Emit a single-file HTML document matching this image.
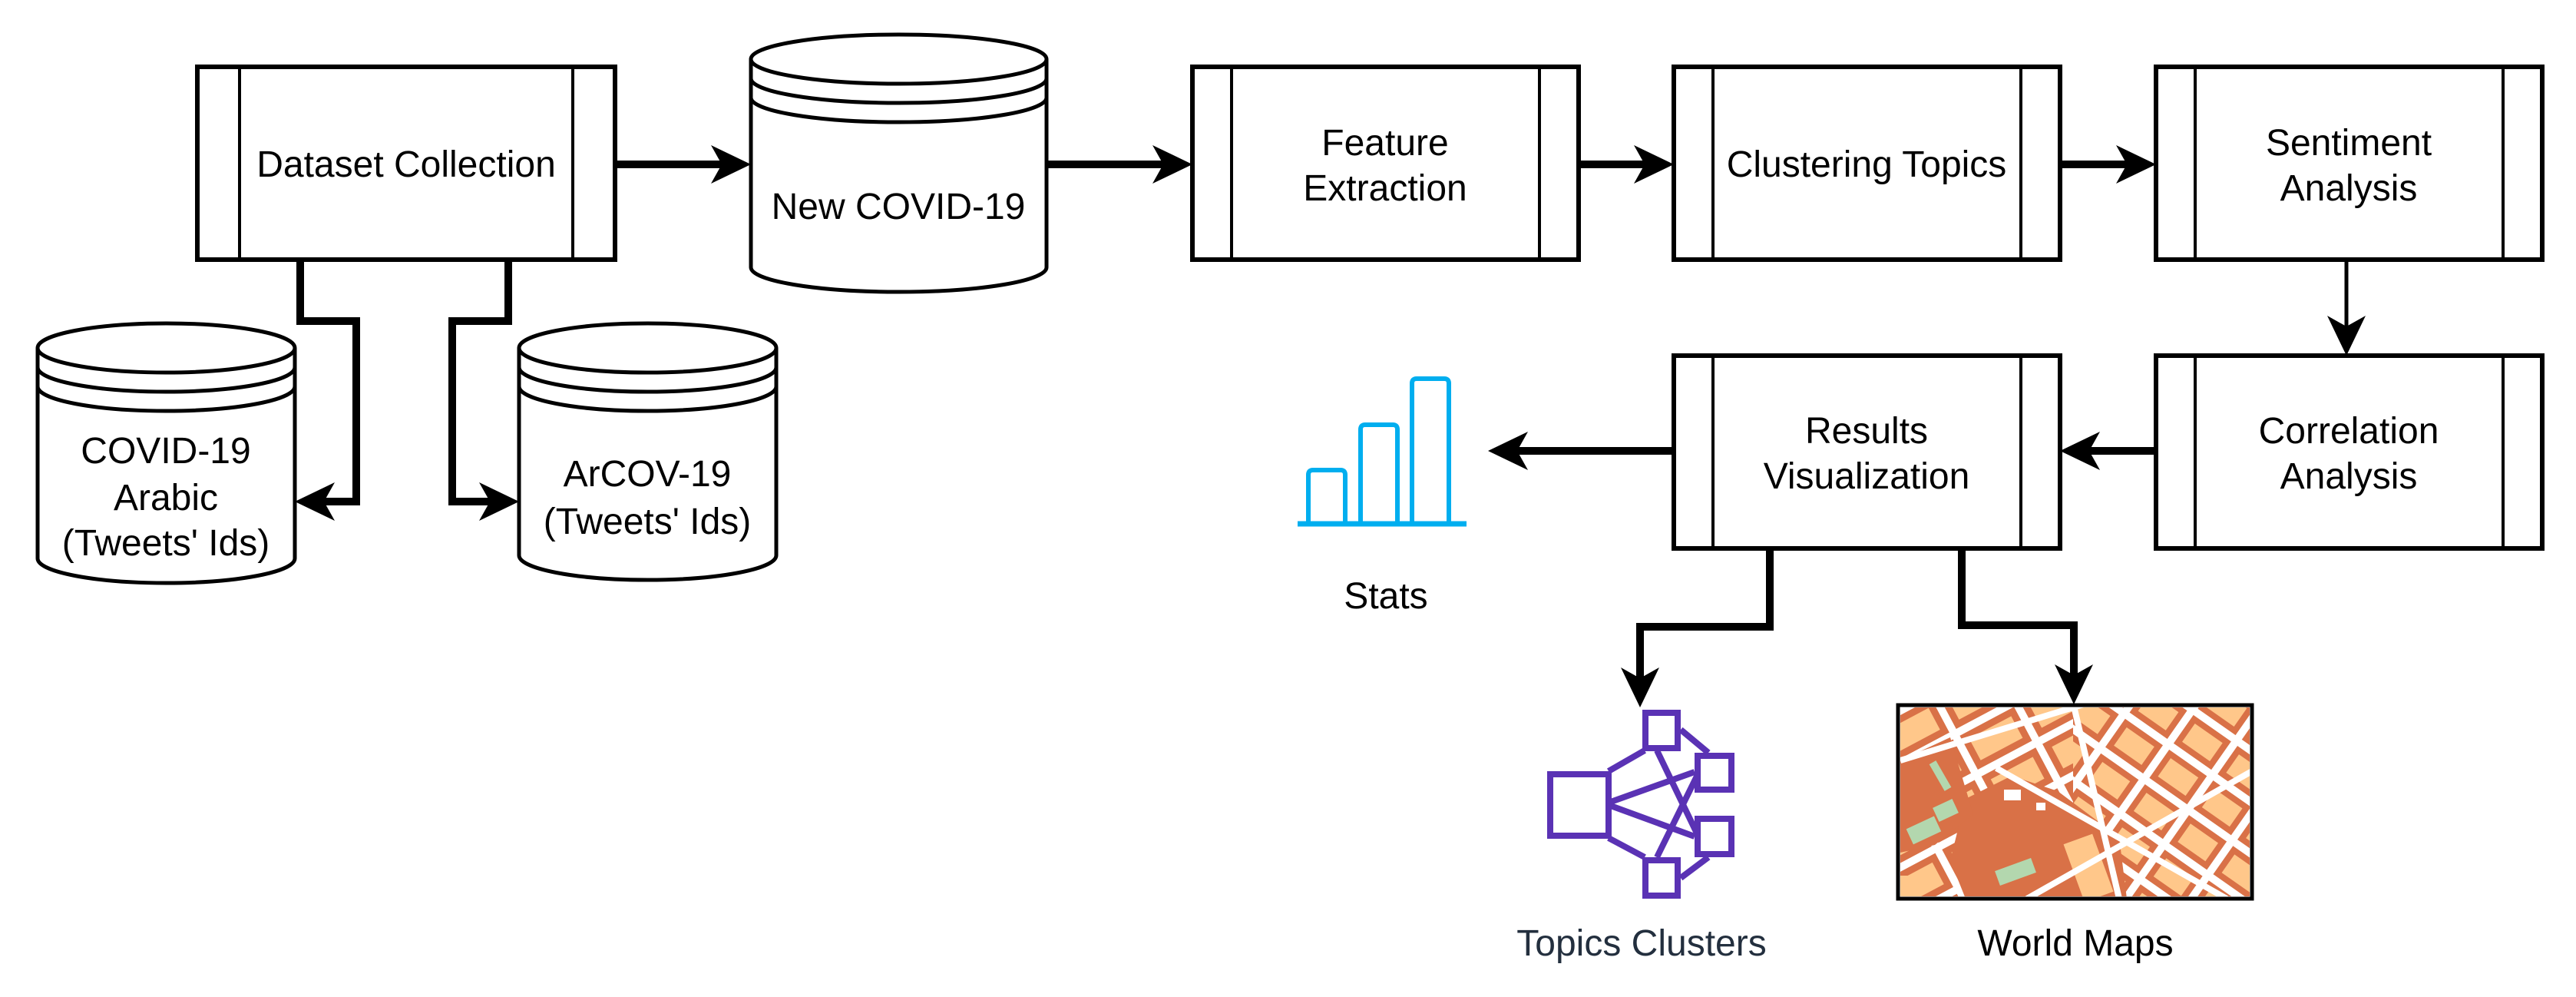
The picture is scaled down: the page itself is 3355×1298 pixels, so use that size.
<!DOCTYPE html>
<html><head><meta charset="utf-8"><style>
html,body{margin:0;padding:0;background:#fff}
svg{display:block}
text{font-family:"Liberation Sans",sans-serif;font-size:48px;fill:#000;text-anchor:middle}
</style></head><body>
<svg width="3355" height="1298" viewBox="0 0 3355 1298" xmlns="http://www.w3.org/2000/svg">
<defs>
<pattern id="blk" width="90" height="60" patternUnits="userSpaceOnUse" patternTransform="rotate(-28)">
<rect width="90" height="60" fill="#fff"/>
<rect x="4" y="4" width="80" height="50" fill="#D97147"/>
<rect x="13" y="13" width="62" height="32" fill="#FFC78A"/>
</pattern>
<pattern id="blk2" width="70" height="55" patternUnits="userSpaceOnUse" patternTransform="rotate(35)">
<rect width="70" height="55" fill="#fff"/>
<rect x="4" y="4" width="60" height="45" fill="#D97147"/>
<rect x="12" y="12" width="44" height="29" fill="#FFC78A"/>
</pattern>
<clipPath id="mc"><rect x="2475" y="921" width="455" height="246"/></clipPath>
</defs>

<g fill="#fff" stroke="#000">
<!-- process boxes -->
<g stroke-width="6">
<rect x="257" y="87" width="544" height="251"/>
<rect x="1553" y="87" width="503" height="251"/>
<rect x="2180" y="87" width="503" height="251"/>
<rect x="2808" y="87" width="503" height="251"/>
<rect x="2180" y="463" width="503" height="251"/>
<rect x="2808" y="463" width="503" height="251"/>
</g>
<g stroke-width="4">
<line x1="312" y1="87" x2="312" y2="338"/><line x1="746" y1="87" x2="746" y2="338"/>
<line x1="1604" y1="87" x2="1604" y2="338"/><line x1="2005" y1="87" x2="2005" y2="338"/>
<line x1="2231" y1="87" x2="2231" y2="338"/><line x1="2632" y1="87" x2="2632" y2="338"/>
<line x1="2859" y1="87" x2="2859" y2="338"/><line x1="3260" y1="87" x2="3260" y2="338"/>
<line x1="2231" y1="463" x2="2231" y2="714"/><line x1="2632" y1="463" x2="2632" y2="714"/>
<line x1="2859" y1="463" x2="2859" y2="714"/><line x1="3260" y1="463" x2="3260" y2="714"/>
</g>
<!-- cylinders -->
<g stroke-width="5">
<path d="M978 77 A192.5 32 0 0 1 1363 77 V348 A192.5 32 0 0 1 978 348 Z"/>
<path d="M978 77 A192.5 32 0 0 0 1363 77 M978 102 A192.5 32 0 0 0 1363 102 M978 127 A192.5 32 0 0 0 1363 127" fill="none"/>
<path d="M49 453 A167.5 32 0 0 1 384 453 V727 A167.5 32 0 0 1 49 727 Z"/>
<path d="M49 453 A167.5 32 0 0 0 384 453 M49 478 A167.5 32 0 0 0 384 478 M49 503 A167.5 32 0 0 0 384 503" fill="none"/>
<path d="M676 453 A167.5 32 0 0 1 1011 453 V723 A167.5 32 0 0 1 676 723 Z"/>
<path d="M676 453 A167.5 32 0 0 0 1011 453 M676 478 A167.5 32 0 0 0 1011 478 M676 503 A167.5 32 0 0 0 1011 503" fill="none"/>
</g>
</g>

<!-- connectors -->
<g fill="none" stroke="#000" stroke-width="10">
<line x1="801" y1="214" x2="945" y2="214"/>
<line x1="1363" y1="214" x2="1520" y2="214"/>
<line x1="2056" y1="214" x2="2147" y2="214"/>
<line x1="2683" y1="214" x2="2775" y2="214"/>
<line x1="2808" y1="587" x2="2716" y2="587"/>
<line x1="2180" y1="587" x2="1971" y2="587"/>
<polyline points="391,338 391,418 464,418 464,653 417,653"/>
<polyline points="662,338 662,418 589,418 589,653 643,653"/>
<polyline points="2305,714 2305,816 2136,816 2136,890"/>
<polyline points="2555,714 2555,814 2701,814 2701,886"/>
</g>
<line x1="3056" y1="338" x2="3056" y2="430" stroke="#000" stroke-width="5"/>
<g fill="#000">
<path d="M978 214 L926 189 L940 214 L926 239 Z"/>
<path d="M1553 214 L1501 189 L1515 214 L1501 239 Z"/>
<path d="M2180 214 L2128 189 L2142 214 L2128 239 Z"/>
<path d="M2808 214 L2756 189 L2770 214 L2756 239 Z"/>
<path d="M2683 587 L2735 562 L2721 587 L2735 612 Z"/>
<path d="M1938 587 L1990 562 L1976 587 L1990 612 Z"/>
<path d="M384 653 L436 628 L422 653 L436 678 Z"/>
<path d="M676 653 L624 628 L638 653 L624 678 Z"/>
<path d="M3056 463 L3031 411 L3056 425 L3081 411 Z"/>
<path d="M2136 921 L2111 869 L2136 883 L2161 869 Z"/>
<path d="M2701 917 L2676 865 L2701 879 L2726 865 Z"/>
</g>

<!-- labels -->
<text x="529" y="230">Dataset Collection</text>
<text x="1170" y="285">New COVID-19</text>
<text x="216" y="603">COVID-19</text>
<text x="216" y="664">Arabic</text>
<text x="216" y="723">(Tweets' Ids)</text>
<text x="843" y="633">ArCOV-19</text>
<text x="843" y="695">(Tweets' Ids)</text>
<text x="1804" y="202">Feature</text>
<text x="1804" y="261">Extraction</text>
<text x="2431" y="230">Clustering Topics</text>
<text x="3059" y="202">Sentiment</text>
<text x="3059" y="261">Analysis</text>
<text x="2431" y="577">Results</text>
<text x="2431" y="636">Visualization</text>
<text x="3059" y="577">Correlation</text>
<text x="3059" y="636">Analysis</text>
<text x="1805" y="792">Stats</text>
<text x="2138" y="1244" style="fill:#232F3E">Topics Clusters</text>
<text x="2703" y="1244">World Maps</text>

<!-- stats icon -->
<g fill="none" stroke="#00AEEF" stroke-width="6" stroke-linejoin="round">
<line x1="1690" y1="682" x2="1910" y2="682" stroke-width="7"/>
<path d="M1704 682 V618 Q1704 612 1710 612 H1746 Q1752 612 1752 618 V682"/>
<path d="M1772 682 V559 Q1772 553 1778 553 H1814 Q1820 553 1820 559 V682"/>
<path d="M1839 682 V499 Q1839 493 1845 493 H1881 Q1887 493 1887 499 V682"/>
</g>

<!-- topics clusters icon -->
<g fill="none" stroke="#5A32B4" stroke-width="8">
<line x1="2095" y1="1004" x2="2142" y2="977"/>
<line x1="2095" y1="1091" x2="2142" y2="1116"/>
<line x1="2095" y1="1045" x2="2207" y2="1005"/>
<line x1="2095" y1="1048" x2="2207" y2="1089"/>
<line x1="2158" y1="977" x2="2225" y2="1116"/>
<line x1="2158" y1="1116" x2="2225" y2="980"/>
<line x1="2189" y1="950" x2="2225" y2="980"/>
<line x1="2189" y1="1143" x2="2225" y2="1116"/>
<rect x="2019" y="1008" width="76" height="80" fill="#fff"/>
<rect x="2143" y="928" width="42" height="46" fill="#fff"/>
<rect x="2211" y="984" width="44" height="44" fill="#fff"/>
<rect x="2211" y="1066" width="44" height="46" fill="#fff"/>
<rect x="2143" y="1120" width="42" height="46" fill="#fff"/>
</g>

<!-- world map -->
<g clip-path="url(#mc)">
<rect x="2470" y="915" width="470" height="260" fill="url(#blk)"/>
<rect x="2700" y="915" width="240" height="260" fill="url(#blk2)"/>
<path d="M2560 1040 L2620 1010 L2680 1030 L2720 1060 L2760 1090 L2770 1170 L2560 1170 L2540 1120 Z" fill="#D97147"/>
<path d="M2475 990 L2540 960 L2570 1060 L2520 1100 L2475 1110 Z" fill="#D97147"/>
<rect x="2520" y="1045" width="28" height="20" fill="#B3D7AE" transform="rotate(-25 2534 1055)"/>
<rect x="2485" y="1070" width="40" height="22" fill="#B3D7AE" transform="rotate(-25 2505 1080)"/>
<rect x="2522" y="990" width="10" height="40" fill="#B3D7AE" transform="rotate(-30 2527 1010)"/>
<rect x="2600" y="1125" width="50" height="20" fill="#B3D7AE" transform="rotate(-20 2625 1135)"/>
<rect x="2475" y="1140" width="40" height="20" fill="#FFC78A"/>
<rect x="2700" y="1090" width="40" height="80" fill="#FFC78A" transform="rotate(-20 2720 1130)"/>
<path d="M2475 990 L2720 915 M2600 1000 L2900 1170 M2700 915 L2760 1170 M2640 1170 L2940 1000" stroke="#fff" stroke-width="8" fill="none"/>
<rect x="2610" y="1028" width="22" height="14" fill="#fff"/>
<rect x="2652" y="1045" width="12" height="10" fill="#fff"/>
</g>
<rect x="2472" y="918" width="461" height="252" fill="none" stroke="#000" stroke-width="5"/>
</svg>
</body></html>
